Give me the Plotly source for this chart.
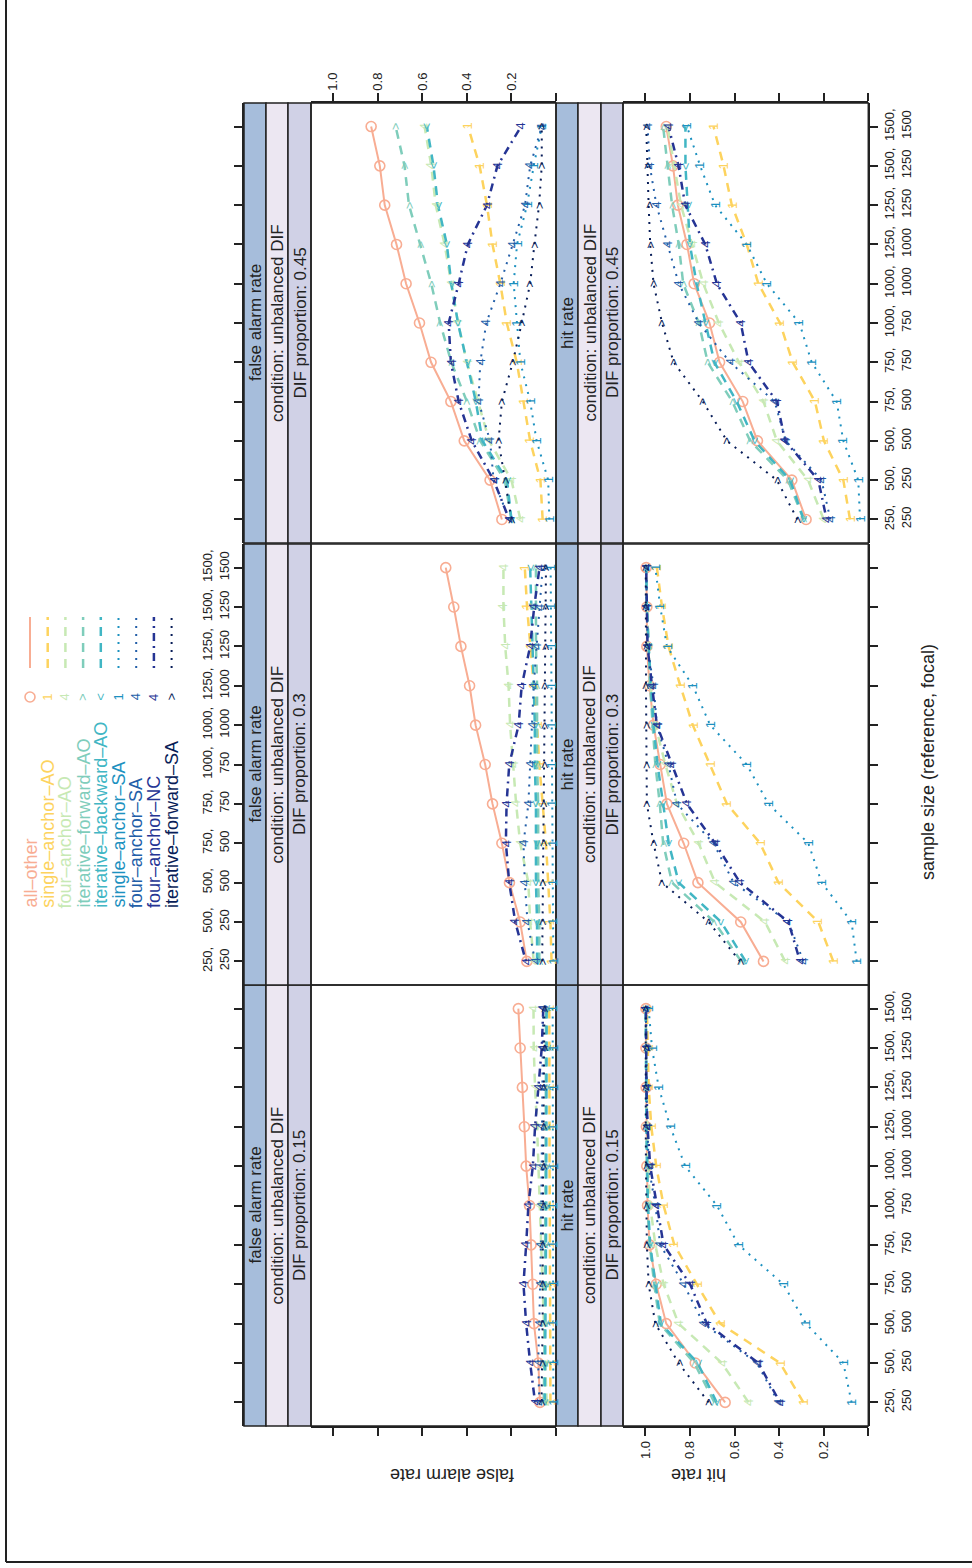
import plotly.graph_objects as go

W, H = 972, 1568

# sample sizes (reference, focal) at each of the 11 design points
sample_ref = [250, 500, 500, 750, 750, 1000, 1000, 1250, 1250, 1500, 1500]
sample_focal = [250, 250, 500, 500, 750, 750, 1000, 1000, 1250, 1250, 1500]
dif_props = ["0.15", "0.3", "0.45"]

methods = ["all–other", "single–anchor–AO", "four–anchor–AO", "iterative–forward–AO",
           "iterative–backward–AO", "single–anchor–SA", "four–anchor–SA",
           "four–anchor–NC", "iterative–forward–SA"]
colors = ["#F8AD93", "#FDD35E", "#C7E9B4", "#7FCDBB", "#41B6C4",
          "#1D91C0", "#225EA8", "#253494", "#081D58"]
symbols = ["o", "1", "4", ">", "<", "1", "4", "4", ">"]
dashes = ["solid", "9px,7px", "9px,7px", "9px,7px", "9px,7px",
          "2px,6px", "2px,6px", "2px,5px,8px,5px", "2px,6px"]
widths = [2, 2.5, 2.5, 2.5, 2.5, 2, 2, 2.5, 2]

# false alarm rate, one row per method (order as in `methods`)
fa_015 = [
    [0.072, 0.079, 0.099, 0.104, 0.112, 0.119, 0.134, 0.142, 0.151, 0.161, 0.169],
    [0.025, 0.025, 0.027, 0.027, 0.028, 0.028, 0.029, 0.029, 0.030, 0.030, 0.030],
    [0.042, 0.048, 0.054, 0.060, 0.066, 0.072, 0.079, 0.085, 0.094, 0.100, 0.101],
    [0.055, 0.052, 0.050, 0.050, 0.048, 0.048, 0.047, 0.046, 0.045, 0.045, 0.045],
    [0.050, 0.048, 0.046, 0.045, 0.045, 0.044, 0.043, 0.043, 0.042, 0.042, 0.042],
    [0.012, 0.012, 0.013, 0.013, 0.013, 0.014, 0.014, 0.014, 0.014, 0.015, 0.015],
    [0.075, 0.080, 0.075, 0.070, 0.068, 0.066, 0.064, 0.062, 0.060, 0.060, 0.058],
    [0.094, 0.116, 0.134, 0.146, 0.134, 0.124, 0.104, 0.094, 0.079, 0.064, 0.057],
    [0.065, 0.062, 0.060, 0.060, 0.060, 0.058, 0.058, 0.056, 0.055, 0.055, 0.052],
]
fa_030 = [
    [0.131, 0.161, 0.209, 0.243, 0.285, 0.318, 0.361, 0.388, 0.427, 0.459, 0.495],
    [0.020, 0.025, 0.035, 0.045, 0.060, 0.075, 0.085, 0.100, 0.115, 0.130, 0.140],
    [0.100, 0.116, 0.124, 0.161, 0.179, 0.191, 0.206, 0.213, 0.228, 0.236, 0.236],
    [0.075, 0.075, 0.080, 0.080, 0.080, 0.085, 0.085, 0.085, 0.090, 0.090, 0.090],
    [0.085, 0.085, 0.090, 0.090, 0.090, 0.095, 0.095, 0.100, 0.105, 0.110, 0.116],
    [0.012, 0.013, 0.015, 0.015, 0.017, 0.018, 0.020, 0.020, 0.022, 0.022, 0.024],
    [0.094, 0.128, 0.140, 0.146, 0.124, 0.116, 0.109, 0.100, 0.087, 0.072, 0.060],
    [0.135, 0.183, 0.210, 0.225, 0.222, 0.210, 0.168, 0.154, 0.116, 0.098, 0.074],
    [0.062, 0.060, 0.058, 0.056, 0.055, 0.053, 0.052, 0.050, 0.048, 0.046, 0.045],
]
fa_045 = [
    [0.243, 0.296, 0.412, 0.472, 0.561, 0.613, 0.673, 0.716, 0.769, 0.791, 0.830],
    [0.060, 0.070, 0.116, 0.146, 0.176, 0.221, 0.250, 0.285, 0.310, 0.343, 0.395],
    [0.160, 0.200, 0.300, 0.350, 0.400, 0.440, 0.470, 0.500, 0.540, 0.560, 0.590],
    [0.200, 0.230, 0.340, 0.400, 0.470, 0.520, 0.560, 0.610, 0.660, 0.680, 0.720],
    [0.200, 0.220, 0.330, 0.360, 0.400, 0.440, 0.470, 0.490, 0.530, 0.550, 0.580],
    [0.030, 0.035, 0.087, 0.116, 0.160, 0.176, 0.190, 0.175, 0.130, 0.100, 0.064],
    [0.210, 0.280, 0.296, 0.348, 0.340, 0.313, 0.250, 0.194, 0.139, 0.116, 0.064],
    [0.210, 0.280, 0.378, 0.437, 0.472, 0.482, 0.437, 0.396, 0.310, 0.263, 0.157],
    [0.200, 0.228, 0.258, 0.243, 0.194, 0.154, 0.116, 0.097, 0.076, 0.064, 0.064],
]

# hit rate, one row per method
hr_015 = [
    [0.642, 0.776, 0.906, 0.951, 0.981, 0.990, 0.993, 0.995, 0.996, 0.997, 0.997],
    [0.291, 0.396, 0.664, 0.769, 0.870, 0.918, 0.951, 0.973, 0.985, 0.990, 0.993],
    [0.537, 0.657, 0.851, 0.918, 0.955, 0.978, 0.988, 0.992, 0.995, 0.996, 0.997],
    [0.690, 0.780, 0.935, 0.960, 0.980, 0.990, 0.993, 0.995, 0.996, 0.997, 0.998],
    [0.680, 0.765, 0.930, 0.955, 0.978, 0.988, 0.992, 0.995, 0.996, 0.997, 0.998],
    [0.075, 0.112, 0.279, 0.381, 0.582, 0.679, 0.821, 0.888, 0.940, 0.970, 0.985],
    [0.403, 0.500, 0.739, 0.828, 0.933, 0.955, 0.985, 0.990, 0.995, 0.996, 0.997],
    [0.396, 0.493, 0.724, 0.799, 0.918, 0.948, 0.978, 0.990, 0.995, 0.996, 0.997],
    [0.716, 0.851, 0.955, 0.985, 0.993, 0.996, 0.997, 0.998, 0.998, 0.998, 0.998],
]
hr_030 = [
    [0.470, 0.572, 0.764, 0.828, 0.903, 0.933, 0.963, 0.981, 0.993, 0.993, 0.996],
    [0.157, 0.224, 0.403, 0.485, 0.634, 0.709, 0.787, 0.843, 0.896, 0.925, 0.948],
    [0.373, 0.463, 0.687, 0.761, 0.858, 0.910, 0.955, 0.978, 0.985, 0.993, 0.996],
    [0.570, 0.690, 0.880, 0.920, 0.935, 0.955, 0.967, 0.978, 0.985, 0.993, 0.996],
    [0.550, 0.660, 0.850, 0.895, 0.920, 0.945, 0.963, 0.975, 0.985, 0.993, 0.996],
    [0.052, 0.075, 0.209, 0.269, 0.448, 0.545, 0.709, 0.787, 0.903, 0.933, 0.955],
    [0.291, 0.358, 0.604, 0.694, 0.858, 0.896, 0.948, 0.963, 0.990, 0.993, 0.996],
    [0.306, 0.358, 0.575, 0.687, 0.813, 0.881, 0.948, 0.970, 0.990, 0.993, 0.996],
    [0.575, 0.716, 0.925, 0.963, 0.993, 0.995, 0.996, 0.997, 0.997, 0.998, 0.998],
]
hr_045 = [
    [0.279, 0.343, 0.497, 0.563, 0.667, 0.712, 0.781, 0.813, 0.854, 0.876, 0.906],
    [0.082, 0.112, 0.199, 0.239, 0.339, 0.396, 0.493, 0.545, 0.612, 0.649, 0.694],
    [0.200, 0.270, 0.410, 0.470, 0.580, 0.670, 0.740, 0.790, 0.840, 0.870, 0.900],
    [0.290, 0.360, 0.530, 0.610, 0.720, 0.760, 0.830, 0.850, 0.880, 0.900, 0.920],
    [0.290, 0.350, 0.510, 0.590, 0.690, 0.730, 0.770, 0.800, 0.810, 0.820, 0.820],
    [0.037, 0.045, 0.112, 0.142, 0.254, 0.309, 0.455, 0.545, 0.687, 0.754, 0.813],
    [0.170, 0.210, 0.370, 0.420, 0.620, 0.760, 0.850, 0.900, 0.950, 0.980, 0.990],
    [0.187, 0.224, 0.373, 0.410, 0.537, 0.572, 0.679, 0.731, 0.821, 0.851, 0.896],
    [0.318, 0.410, 0.634, 0.742, 0.873, 0.925, 0.963, 0.978, 0.985, 0.990, 0.996],
]

measures = {"fa": ("false alarm rate", {"0.15": fa_015, "0.3": fa_030, "0.45": fa_045}),
            "hr": ("hit rate", {"0.15": hr_015, "0.3": hr_030, "0.45": hr_045})}

FONT = "Liberation Sans, Arial, Helvetica, sans-serif"
INK = "#222222"
STRIP_FILLS = ["#A6BDDB", "#ECE7F2", "#D0D1E6"]

# page-pixel layout of the rotated lattice: rows run left->right, columns top->bottom
col_span = {"0.15": (985, 1426), "0.3": (544, 985), "0.45": (103, 543)}
row_span = {"fa": (311, 556), "hr": (623, 868.3)}
strip_span = {"fa": [(244, 266), (266, 288), (288, 311)],
              "hr": [(556, 578), (578, 601), (601, 623)]}
RATE_RANGE = [1.1, 0]
IDX_RANGE = [0.4, 11.6]
idx = list(range(1, 12))


def fx(px):
    return px / W


def fy(py):
    return 1 - py / H


def axname(letter, k):
    return f"{letter}axis" if k == 1 else f"{letter}axis{k}"


def axref(letter, k):
    return letter if k == 1 else f"{letter}{k}"


fig = go.Figure()
layout = {}
annotations = []
shapes = []

# ---- data panels ----
k = 0
for r in ["fa", "hr"]:
    strip_label, tables = measures[r]
    for c in dif_props:
        k += 1
        xr, yr = axref("x", k), axref("y", k)
        layout[axname("x", k)] = dict(domain=[fx(row_span[r][0]), fx(row_span[r][1])],
                                      range=RATE_RANGE, visible=False, anchor=yr)
        layout[axname("y", k)] = dict(domain=[fy(col_span[c][1]), fy(col_span[c][0])],
                                      range=IDX_RANGE, visible=False, anchor=xr)
        table = tables[c]
        for m, vals in enumerate(table):
            is_circle = symbols[m] == "o"
            fig.add_trace(go.Scatter(
                x=vals, y=idx, xaxis=xr, yaxis=yr,
                mode="lines+markers" if is_circle else "lines",
                line=dict(color=colors[m], width=widths[m], dash=dashes[m]),
                marker=dict(symbol="circle-open", size=10,
                            line=dict(color=colors[m], width=1.6)) if is_circle else None,
                name=methods[m], showlegend=False, hoverinfo="skip"))
            if not is_circle:
                ch = symbols[m].replace("<", "&lt;").replace(">", "&gt;")
                for v, i in zip(vals, idx):
                    annotations.append(dict(
                        x=v, y=i, xref=xr, yref=yr, text=ch, showarrow=False,
                        textangle=-90, xanchor="center", yanchor="middle",
                        font=dict(family=FONT, size=13, color=colors[m])))

        # strips and panel box
        y0, y1 = fy(col_span[c][1]), fy(col_span[c][0])
        texts = [strip_label, "condition: unbalanced DIF", f"DIF proportion: {c}"]
        for s, (a, b) in enumerate(strip_span[r]):
            shapes.append(dict(type="rect", xref="paper", yref="paper",
                               x0=fx(a), x1=fx(b), y0=y0, y1=y1, layer="below",
                               fillcolor=STRIP_FILLS[s], line=dict(color=INK, width=1.5)))
            annotations.append(dict(x=fx((a + b) / 2), y=(y0 + y1) / 2, xref="paper", yref="paper",
                                    text=texts[s], showarrow=False, textangle=-90,
                                    xanchor="center", yanchor="middle",
                                    font=dict(family=FONT, size=17, color=INK)))
        shapes.append(dict(type="rect", xref="paper", yref="paper",
                           x0=fx(row_span[r][0]), x1=fx(row_span[r][1]), y0=y0, y1=y1,
                           layer="above", line=dict(color=INK, width=1.5)))

# ---- sample-size axes (one per column, vertical on the page) ----
size_labels = [f"{a},<br>{b}" for a, b in zip(sample_ref, sample_focal)]
for j, c in enumerate(dif_props):
    k = 7 + j
    layout[axname("x", k)] = dict(domain=[fx(244), fx(868.3)], range=[0, 1],
                                  visible=False, anchor=axref("y", k))
    layout[axname("y", k)] = dict(
        domain=[fy(col_span[c][1]), fy(col_span[c][0])], range=IDX_RANGE,
        anchor=axref("x", k), side="left" if c == "0.3" else "right",
        tickmode="array", tickvals=idx, ticktext=size_labels, tickangle=-90,
        ticks="outside", ticklen=8, tickwidth=1.5, tickcolor=INK,
        mirror="ticks", showline=True, linecolor=INK, linewidth=1.5,
        showgrid=False, zeroline=False,
        tickfont=dict(family=FONT, size=13, color=INK))
    fig.add_trace(go.Scatter(x=[None], y=[None], xaxis=axref("x", k), yaxis=axref("y", k),
                             showlegend=False, hoverinfo="skip"))

# ---- rate axes (one per row, horizontal on the page) ----
rate_ticks = [0, 0.2, 0.4, 0.6, 0.8, 1.0]
rate_text = ["", "0.2", "0.4", "0.6", "0.8", "1.0"]
for j, r in enumerate(["fa", "hr"]):
    k = 10 + j
    layout[axname("y", k)] = dict(domain=[fy(1426), fy(103)], range=[0, 1],
                                  visible=False, anchor=axref("x", k))
    layout[axname("x", k)] = dict(
        domain=[fx(row_span[r][0]), fx(row_span[r][1])], range=RATE_RANGE,
        anchor=axref("y", k), side="top" if r == "fa" else "bottom",
        tickmode="array", tickvals=rate_ticks, ticktext=rate_text, tickangle=-90,
        ticks="outside", ticklen=8, tickwidth=1.5, tickcolor=INK,
        mirror="ticks", showline=True, linecolor=INK, linewidth=1.5,
        showgrid=False, zeroline=False,
        tickfont=dict(family=FONT, size=13, color=INK))
    fig.add_trace(go.Scatter(x=[None], y=[None], xaxis=axref("x", k), yaxis=axref("y", k),
                             showlegend=False, hoverinfo="skip"))

# ---- axis titles ----
annotations.append(dict(x=fx(452), y=fy(1487), xref="paper", yref="paper",
                        text="false alarm rate", showarrow=False, textangle=180,
                        font=dict(family=FONT, size=18, color=INK)))
annotations.append(dict(x=fx(728), y=fy(1487), xref="paper", yref="paper",
                        text="hit rate", showarrow=False, textangle=180,
                        font=dict(family=FONT, size=18, color=INK)))
annotations.append(dict(x=fx(940), y=fy(762), xref="paper", yref="paper",
                        text="sample size (reference, focal)", showarrow=False, textangle=-90,
                        font=dict(family=FONT, size=18, color=INK)))

# ---- key ----
for m, name in enumerate(methods):
    kx = 30 + 17.7 * m
    annotations.append(dict(x=fx(kx), y=fy(910), xref="paper", yref="paper",
                            text=name, showarrow=False, textangle=-90,
                            xanchor="center", yanchor="bottom",
                            font=dict(family=FONT, size=18, color=colors[m])))
    if symbols[m] == "o":
        shapes.append(dict(type="circle", xref="paper", yref="paper",
                           x0=fx(kx - 5), x1=fx(kx + 5), y0=fy(702), y1=fy(692),
                           line=dict(color=colors[m], width=1.6)))
    else:
        ch = symbols[m].replace("<", "&lt;").replace(">", "&gt;")
        annotations.append(dict(x=fx(kx), y=fy(697), xref="paper", yref="paper",
                                text=ch, showarrow=False, textangle=-90,
                                xanchor="center", yanchor="middle",
                                font=dict(family=FONT, size=13, color=colors[m])))
    shapes.append(dict(type="line", xref="paper", yref="paper",
                       x0=fx(kx), x1=fx(kx), y0=fy(668), y1=fy(617),
                       line=dict(color=colors[m], width=widths[m], dash=dashes[m])))

# ---- page frame ----
shapes.append(dict(type="line", xref="paper", yref="paper", x0=fx(6), x1=fx(6),
                   y0=fy(0), y1=fy(1562), line=dict(color=INK, width=2)))
shapes.append(dict(type="line", xref="paper", yref="paper", x0=fx(6), x1=1,
                   y0=fy(1562), y1=fy(1562), line=dict(color=INK, width=2)))

fig.update_layout(
    width=W, height=H, margin=dict(l=0, r=0, t=0, b=0),
    paper_bgcolor="white", plot_bgcolor="rgba(0,0,0,0)",
    font=dict(family=FONT, color=INK), showlegend=False,
    annotations=annotations, shapes=shapes, **layout)

fig.write_html("out.html")
